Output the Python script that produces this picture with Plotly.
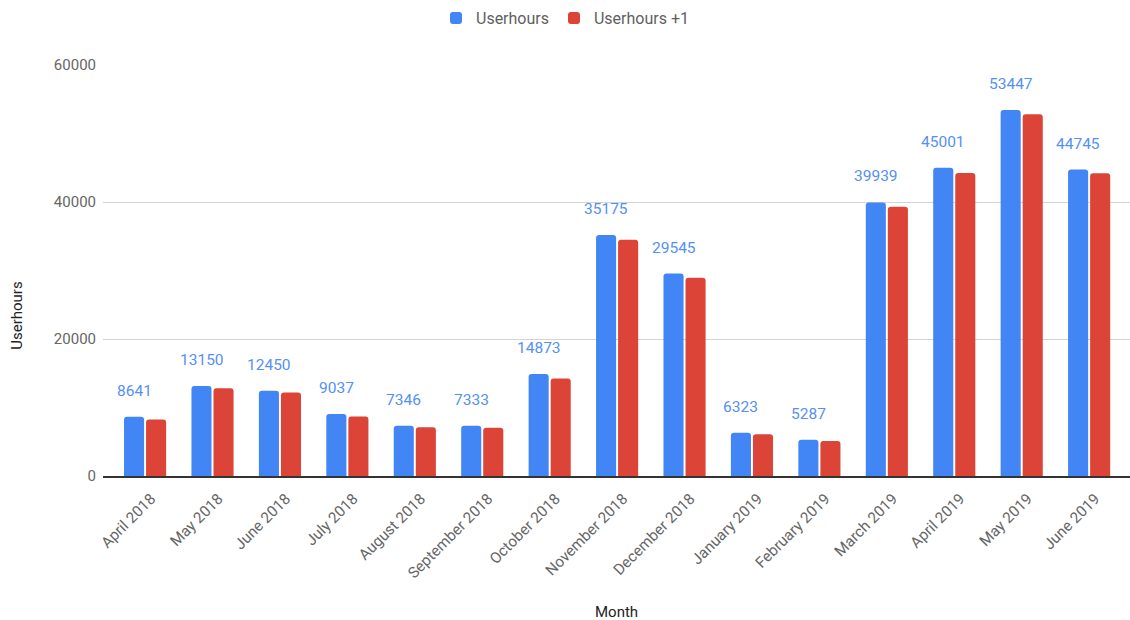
import plotly.graph_objects as go

months = ["April 2018", "May 2018", "June 2018", "July 2018", "August 2018",
          "September 2018", "October 2018", "November 2018", "December 2018",
          "January 2019", "February 2019", "March 2019", "April 2019",
          "May 2019", "June 2019"]
userhours = [8641, 13150, 12450, 9037, 7346, 7333, 14873, 35175, 29545,
             6323, 5287, 39939, 45001, 53447, 44745]
userhours_plus1 = [8250, 12800, 12200, 8700, 7100, 7050, 14250, 34500, 28950,
                   6100, 5100, 39300, 44250, 52800, 44200]
y_ticks = [0, 20000, 40000, 60000]
y_tick_text = ["0", "20000", "40000", "60000"]

BLUE = "#4285F4"
RED = "#DB4437"
FONT = "Roboto"

fig = go.Figure()
fig.add_trace(go.Bar(x=months, y=userhours, name="Userhours",
                     marker=dict(color=BLUE, cornerradius=3, line=dict(width=0))))
fig.add_trace(go.Bar(x=months, y=userhours_plus1, name="Userhours +1",
                     marker=dict(color=RED, cornerradius=3, line=dict(width=0))))

annotations = []
for m, v in zip(months, userhours):
    annotations.append(dict(x=m, y=v, xref="x", yref="y", text=str(v),
                            showarrow=False, xanchor="center", yanchor="bottom",
                            xshift=-11, yshift=15,
                            font=dict(family=FONT, size=15.5, color="#5590f5")))
annotations.append(dict(x=-0.0837, y=0.39, xref="paper", yref="paper", text="Userhours",
                        showarrow=False, textangle=-90, xanchor="center", yanchor="middle",
                        font=dict(family=FONT, size=15, color="#222222")))
annotations.append(dict(x=0.5, y=-0.331, xref="paper", yref="paper", yanchor="middle",
                        text="Month", showarrow=False, xanchor="center",
                        font=dict(family=FONT, size=15, color="#222222")))

fig.update_layout(
    width=1130, height=620,
    margin=dict(l=103, r=0, t=65, b=144),
    paper_bgcolor="white", plot_bgcolor="white",
    barmode="group", bargap=0.346, bargroupgap=0.09,
    font=dict(family=FONT, size=15, color="#666666"),
    legend=dict(orientation="h", x=0.5, xanchor="center", xref="container",
                y=1 - 18 / 620, yref="container", yanchor="middle",
                font=dict(family=FONT, size=16, color="#5f5f5f"),
                itemclick=False),
    annotations=annotations,
    showlegend=True,
)
fig.update_xaxes(tickangle=-45, showgrid=False, showline=True, linecolor="#333333",
                 linewidth=1.5, range=[-0.624, 14.606], ticks="",
                 ticklabelstandoff=6, ticklabelshift=6,
                 tickfont=dict(family=FONT, size=15.3, color="#666666"),
                 zeroline=False)
fig.update_yaxes(range=[0, 60000], tickvals=y_ticks, ticktext=y_tick_text,
                 showgrid=True, gridcolor="#d4d4d4",
                 gridwidth=1, zeroline=False, showline=False, ticks="",
                 ticklabelstandoff=6,
                 tickfont=dict(family=FONT, size=15, color="#666666"))

fig.write_html("out.html")
